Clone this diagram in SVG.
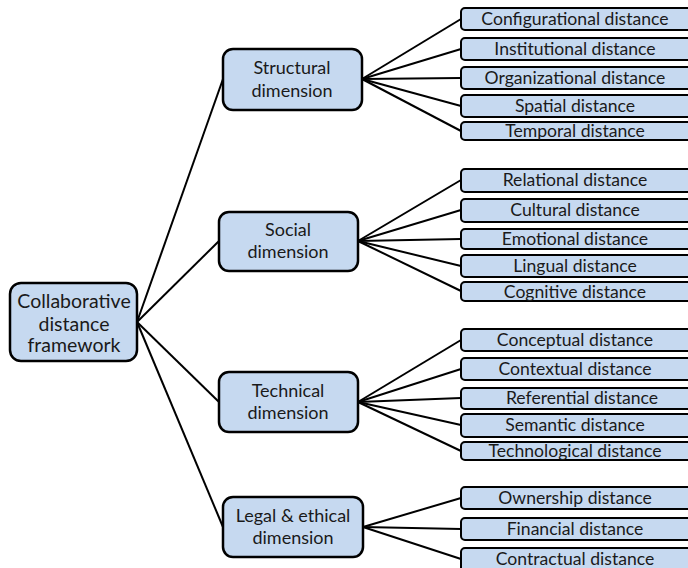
<svg xmlns="http://www.w3.org/2000/svg" width="688" height="568" viewBox="0 0 688 568">
  <style>
    .box { fill: #c6d9f0; stroke: #000; stroke-width: 2.5; }
    .leaf { fill: #c6d9f0; stroke: #000; stroke-width: 2; }
    .t { font-family: Lato, "Open Sans", sans-serif; font-size: 18px; fill: #1a1a1a; text-anchor: middle; }
    .rt { font-family: Lato, "Open Sans", sans-serif; font-size: 19.5px; fill: #1a1a1a; text-anchor: middle; }
    .lt { font-family: Lato, "Open Sans", sans-serif; font-size: 17.6px; fill: #1a1a1a; text-anchor: middle; }
    .c { stroke: #000; stroke-width: 2; fill: none; }
  </style>

  <!-- connectors -->
  <g id="connectors" class="c">
    <!-- root to dimensions -->
    <line x1="137" y1="322" x2="223" y2="79"/>
    <line x1="137" y1="322" x2="219" y2="241"/>
    <line x1="137" y1="322" x2="219" y2="402"/>
    <line x1="137" y1="322" x2="223" y2="527"/>
    <!-- structural -->
    <line x1="362" y1="79" x2="461" y2="19"/>
    <line x1="362" y1="79" x2="461" y2="49"/>
    <line x1="362" y1="79" x2="461" y2="78"/>
    <line x1="362" y1="79" x2="461" y2="106"/>
    <line x1="362" y1="79" x2="461" y2="131"/>
    <!-- social -->
    <line x1="358" y1="241" x2="461" y2="180"/>
    <line x1="358" y1="241" x2="461" y2="210"/>
    <line x1="358" y1="241" x2="461" y2="239"/>
    <line x1="358" y1="241" x2="461" y2="266"/>
    <line x1="358" y1="241" x2="461" y2="291"/>
    <!-- technical -->
    <line x1="358" y1="402" x2="461" y2="340"/>
    <line x1="358" y1="402" x2="461" y2="369"/>
    <line x1="358" y1="402" x2="461" y2="398"/>
    <line x1="358" y1="402" x2="461" y2="425"/>
    <line x1="358" y1="402" x2="461" y2="451"/>
    <!-- legal -->
    <line x1="363" y1="527" x2="461" y2="498"/>
    <line x1="363" y1="527" x2="461" y2="529"/>
    <line x1="363" y1="527" x2="461" y2="559"/>
  </g>

  <!-- root -->
  <g id="root">
    <rect class="box" x="10" y="283" width="127" height="78" rx="11"/>
    <text class="rt" x="74" y="308">Collaborative</text>
    <text class="rt" x="74" y="331">distance</text>
    <text class="rt" x="74" y="352">framework</text>
  </g>

  <!-- dimensions -->
  <g id="structural">
    <rect class="box" x="223" y="49" width="139" height="61" rx="10"/>
    <text class="t" x="292" y="74">Structural</text>
    <text class="t" x="292" y="97">dimension</text>
  </g>
  <g id="social">
    <rect class="box" x="219" y="212" width="139" height="59" rx="10"/>
    <text class="t" x="288" y="236">Social</text>
    <text class="t" x="288" y="258">dimension</text>
  </g>
  <g id="technical">
    <rect class="box" x="219" y="372" width="139" height="60" rx="10"/>
    <text class="t" x="288" y="397">Technical</text>
    <text class="t" x="288" y="419">dimension</text>
  </g>
  <g id="legal">
    <rect class="box" x="223" y="497" width="140" height="60" rx="10"/>
    <text class="t" x="293" y="522">Legal &amp; ethical</text>
    <text class="t" x="293" y="544">dimension</text>
  </g>

  <!-- structural leaves -->
  <g id="configurational"><rect class="leaf" x="461" y="8" width="232" height="22" rx="4"/><text class="lt" x="575" y="25">Configurational distance</text></g>
  <g id="institutional"><rect class="leaf" x="461" y="38" width="232" height="22" rx="4"/><text class="lt" x="575" y="55">Institutional distance</text></g>
  <g id="organizational"><rect class="leaf" x="461" y="67" width="232" height="22" rx="4"/><text class="lt" x="575" y="84">Organizational distance</text></g>
  <g id="spatial"><rect class="leaf" x="461" y="95" width="232" height="22" rx="4"/><text class="lt" x="575" y="112">Spatial distance</text></g>
  <g id="temporal"><rect class="leaf" x="461" y="122" width="232" height="18" rx="4"/><text class="lt" x="575" y="137">Temporal distance</text></g>

  <!-- social leaves -->
  <g id="relational"><rect class="leaf" x="461" y="169" width="232" height="23" rx="4"/><text class="lt" x="575" y="186">Relational distance</text></g>
  <g id="cultural"><rect class="leaf" x="461" y="199" width="232" height="23" rx="4"/><text class="lt" x="575" y="216">Cultural distance</text></g>
  <g id="emotional"><rect class="leaf" x="461" y="229" width="232" height="20" rx="4"/><text class="lt" x="575" y="245">Emotional distance</text></g>
  <g id="lingual"><rect class="leaf" x="461" y="255" width="232" height="22" rx="4"/><text class="lt" x="575" y="272">Lingual distance</text></g>
  <g id="cognitive"><rect class="leaf" x="461" y="282" width="232" height="19" rx="4"/><text class="lt" x="575" y="298">Cognitive distance</text></g>

  <!-- technical leaves -->
  <g id="conceptual"><rect class="leaf" x="461" y="329" width="232" height="22" rx="4"/><text class="lt" x="575" y="346">Conceptual distance</text></g>
  <g id="contextual"><rect class="leaf" x="461" y="358" width="232" height="22" rx="4"/><text class="lt" x="575" y="375">Contextual distance</text></g>
  <g id="referential"><rect class="leaf" x="461" y="388" width="232" height="21" rx="4"/><text class="lt" x="582" y="404">Referential distance</text></g>
  <g id="semantic"><rect class="leaf" x="461" y="414" width="232" height="23" rx="4"/><text class="lt" x="575" y="431">Semantic distance</text></g>
  <g id="technological"><rect class="leaf" x="461" y="442" width="232" height="18" rx="4"/><text class="lt" x="575" y="457">Technological distance</text></g>

  <!-- legal leaves -->
  <g id="ownership"><rect class="leaf" x="461" y="487" width="232" height="22" rx="4"/><text class="lt" x="575" y="504">Ownership distance</text></g>
  <g id="financial"><rect class="leaf" x="461" y="518" width="232" height="22" rx="4"/><text class="lt" x="575" y="535">Financial distance</text></g>
  <g id="contractual"><rect class="leaf" x="461" y="548" width="232" height="24" rx="4"/><text class="lt" x="575" y="565">Contractual distance</text></g>
</svg>
